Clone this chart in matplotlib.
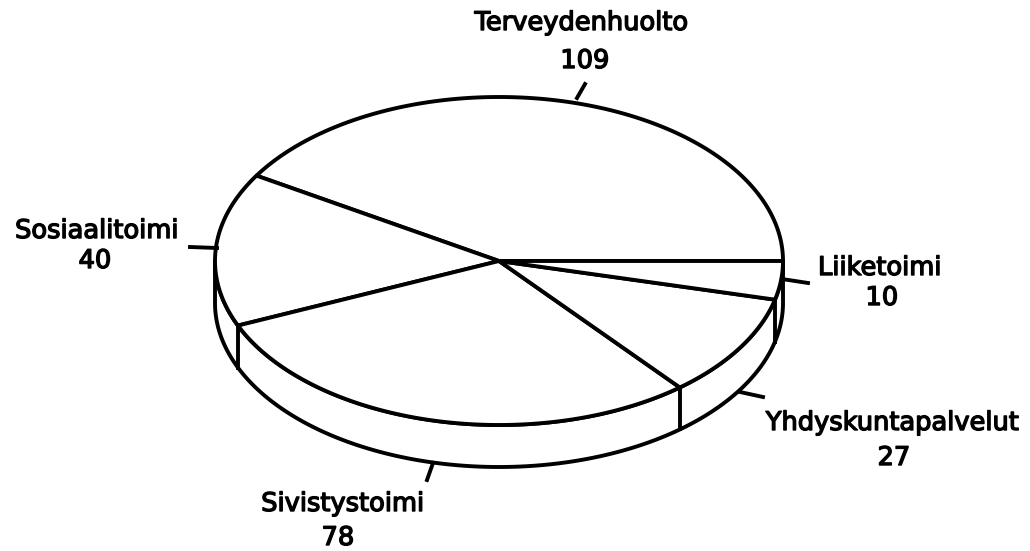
import numpy as np
import matplotlib
matplotlib.use("Agg")
import matplotlib.pyplot as plt
from matplotlib.patches import Polygon
import matplotlib.patheffects as pe

# ---- data ----
categories = ["Terveydenhuolto", "Sosiaalitoimi", "Sivistystoimi", "Yhdyskuntapalvelut", "Liiketoimi"]
values = [109, 40, 78, 27, 10]

# ---- layout (pixel space) ----
W, H = 1030, 551
cx, cy = 499, 261
a, b = 284, 164
depth = 42
lw = 2.8

# label anchor: (x centre, baseline y)
name_pos = [(582, 30), (97, 238), (343, 511), (893, 430), (880, 275)]
val_pos = [(585, 68), (95, 268), (338, 545), (894, 465), (882, 305)]
leaders = [((577, 98), (585, 84)), ((217, 248), (190, 247)), ((433, 463), (427, 480)),
           ((740, 392), (763, 397)), ((782, 279), (808, 283))]

fig = plt.figure(figsize=(W / 100, H / 100), dpi=100)
ax = fig.add_axes([0, 0, 1, 1])
ax.set_xlim(0, W)
ax.set_ylim(H, 0)
ax.axis("off")


def pt(t, dy=0.0):
    r = np.radians(t)
    return cx + a * np.cos(r), cy - b * np.sin(r) + dy


# slice angles from the values
total = float(sum(values))
angles = np.concatenate([[0.0], np.cumsum(values) / total * 360.0])

# side wall (visible lower half)
t = np.linspace(180, 360, 300)
top_x, top_y = pt(t)
bot_x, bot_y = pt(t[::-1], depth)
wall = np.column_stack([np.concatenate([top_x, bot_x]), np.concatenate([top_y, bot_y])])
ax.add_patch(Polygon(wall, closed=True, facecolor="white", edgecolor="black", lw=lw,
                     joinstyle="round", zorder=1))

# vertical edges of slice boundaries on the wall
for ang in angles[1:-1]:
    if 180 < ang < 360:
        x0, y0 = pt(ang)
        ax.plot([x0, x0], [y0, y0 + depth], color="black", lw=lw, zorder=2)

# top slices
for i in range(len(values)):
    tt = np.linspace(angles[i], angles[i + 1], 200)
    xs, ys = pt(tt)
    poly = np.column_stack([np.concatenate([[cx], xs]), np.concatenate([[cy], ys])])
    ax.add_patch(Polygon(poly, closed=True, facecolor="white", edgecolor="black", lw=lw,
                         joinstyle="round", zorder=3))

# leaders and labels
effects = [pe.withStroke(linewidth=1.0, foreground="black")]
fs = 18.5
for i, name in enumerate(categories):
    (x1, y1), (x2, y2) = leaders[i]
    ax.plot([x1, x2], [y1, y2], color="black", lw=lw, zorder=4)
    ax.text(*name_pos[i], name, ha="center", va="baseline", fontsize=fs,
            family="DejaVu Sans", color="black", path_effects=effects)
    ax.text(*val_pos[i], str(values[i]), ha="center", va="baseline", fontsize=fs,
            family="DejaVu Sans", color="black", path_effects=effects)

fig.savefig("out.png", dpi=100, facecolor="white")
